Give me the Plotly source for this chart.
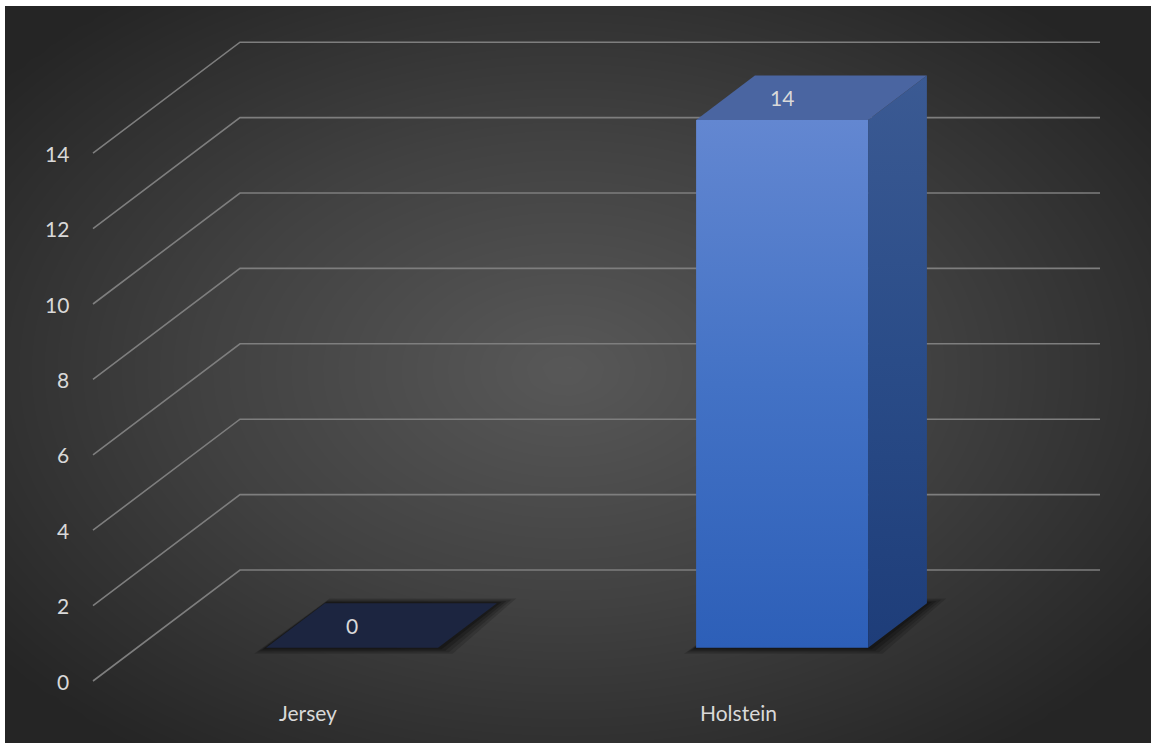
import numpy as np
import plotly.graph_objects as go

# ---- data ----
categories = ["Jersey", "Holstein"]
values = [0, 14]
y_ticks = [0, 2, 4, 6, 8, 10, 12, 14]

# ---- projection of the pseudo-3D chart onto the 2D axes ----
W, H = 1151, 743
PX_CAT0 = 308.0      # pixel x of first category centre (front of floor)
PX_BAND = 430.0      # pixel width of one category band
PY_ZERO = 681.0      # pixel y of value 0 at front of floor
PX_PER_UNIT = 37.7   # pixels per value unit
DX = 147.0 / PX_BAND        # depth offset (x units) for the full depth
DV = 111.0 / PX_PER_UNIT    # depth offset (value units) for the full depth
BAR_W = 0.4
D0, D1 = 0.3, 0.7


def px2x(px):
    return (px - PX_CAT0) / PX_BAND


def py2v(py):
    return (PY_ZERO - py) / PX_PER_UNIT


def proj(x, v, d):
    return x + d * DX, v + d * DV


xr = [px2x(5), px2x(W)]
yr = [py2v(H), py2v(6)]

fig = go.Figure()

# ---- radial background gradient ----
gx = np.linspace(xr[0], xr[1], 70)
gy = np.linspace(yr[0], yr[1], 50)
PX = PX_CAT0 + gx * PX_BAND
PY = PY_ZERO - gy * PX_PER_UNIT
XX, YY = np.meshgrid(PX, PY)
r = np.sqrt(((XX - 565) / 720.0) ** 2 + ((YY - 370) / 470.0) ** 2)
r = np.clip(r, 0, 1)
fig.add_trace(go.Heatmap(
    x=gx, y=gy, z=r, zmin=0, zmax=1, zsmooth="best", showscale=False,
    colorscale=[[0, "#585858"], [0.5, "#414141"], [1, "#252525"]],
    hoverinfo="skip"))

# ---- gridlines (side wall + back wall) ----
left = -0.5
right = len(categories) - 0.5
gxs, gys = [], []
for t in y_ticks:
    fx, fv = proj(left, t, 0)
    bx, bv = proj(left, t, 1)
    rx, rv = proj(right, t, 1)
    gxs += [fx, bx, rx, None]
    gys += [fv, bv, rv, None]
fig.add_trace(go.Scatter(x=gxs, y=gys, mode="lines",
                         line=dict(color="#7e7e7e", width=1.6),
                         hoverinfo="skip", showlegend=False))

# ---- shadows under bars (layered to imitate a blur) ----
for i, v in enumerate(categories):
    x0, x1 = i - BAR_W / 2, i + BAR_W / 2
    for grow, alpha in [(12, 0.18), (9, 0.22), (6, 0.28), (3, 0.4)]:
        gx_ = grow / PX_BAND
        gv_ = grow / PX_PER_UNIT
        pts = [proj(x0 - gx_, -gv_ * 0.5, D0), proj(x1 + gx_ * 1.2, -gv_ * 0.5, D0),
               proj(x1 + gx_ * 1.6, gv_ * 0.4, D1), proj(x0 + gx_ * 0.4, gv_ * 0.4, D1)]
        fig.add_trace(go.Scatter(
            x=[p[0] for p in pts] + [pts[0][0]], y=[p[1] for p in pts] + [pts[0][1]],
            mode="lines", fill="toself", fillcolor=f"rgba(12,12,12,{alpha})",
            line=dict(width=0), hoverinfo="skip", showlegend=False))

# ---- bars ----
for i, (cat, v) in enumerate(zip(categories, values)):
    x0, x1 = i - BAR_W / 2, i + BAR_W / 2
    if v > 0:
        front = [proj(x0, 0, D0), proj(x1, 0, D0), proj(x1, v, D0), proj(x0, v, D0)]
        side = [proj(x1, 0, D0), proj(x1, 0, D1), proj(x1, v, D1), proj(x1, v, D0)]
        top = [proj(x0, v, D0), proj(x1, v, D0), proj(x1, v, D1), proj(x0, v, D1)]
        fig.add_trace(go.Scatter(
            x=[p[0] for p in front] + [front[0][0]], y=[p[1] for p in front] + [front[0][1]],
            mode="lines", fill="toself", line=dict(width=0),
            fillgradient=dict(type="vertical",
                              colorscale=[[0, "#2d5fb8"], [0.5, "#4372c5"], [1, "#6387d1"]]),
            hoverinfo="skip", showlegend=False))
        fig.add_trace(go.Scatter(
            x=[p[0] for p in side] + [side[0][0]], y=[p[1] for p in side] + [side[0][1]],
            mode="lines", fill="toself", line=dict(width=0),
            fillgradient=dict(type="vertical",
                              colorscale=[[0, "#1e3d79"], [0.5, "#2a4c88"], [1, "#3b5a93"]]),
            hoverinfo="skip", showlegend=False))
        fig.add_trace(go.Scatter(
            x=[p[0] for p in top] + [top[0][0]], y=[p[1] for p in top] + [top[0][1]],
            mode="lines", fill="toself", fillcolor="#4a65a1", line=dict(width=0),
            hoverinfo="skip", showlegend=False))
    else:
        top = [proj(x0, v, D0), proj(x1, v, D0), proj(x1, v, D1), proj(x0, v, D1)]
        fig.add_trace(go.Scatter(
            x=[p[0] for p in top] + [top[0][0]], y=[p[1] for p in top] + [top[0][1]],
            mode="lines", fill="toself", fillcolor="#1c2540", line=dict(width=0),
            hoverinfo="skip", showlegend=False))

FONT = dict(family="Lato, Open Sans, sans-serif", size=21, color="#d9d9d9")

# data labels
for i, v in enumerate(values):
    fig.add_annotation(x=i + D0 * DX, y=v + 0.5 * DV, text=str(v), showarrow=False,
                       font=FONT, xanchor="center", yanchor="middle")

# category labels
for i, cat in enumerate(categories):
    fig.add_annotation(x=i, y=py2v(712), text=cat, showarrow=False, font=FONT,
                       xanchor="center", yanchor="middle")

# value-axis labels
for t in y_ticks:
    fig.add_annotation(x=px2x(71), y=t, text=str(t), showarrow=False, font=FONT,
                       xanchor="right", yanchor="middle")

fig.update_layout(
    width=W, height=H,
    margin=dict(l=5, t=6, r=0, b=0),
    paper_bgcolor="#ffffff", plot_bgcolor="#3a3a3a",
    showlegend=False,
    xaxis=dict(range=xr, visible=False, fixedrange=True),
    yaxis=dict(range=yr, visible=False, fixedrange=True),
)

fig.write_html(
    "out.html",
    config={"displayModeBar": False},
    post_script="document.body.style.margin='0';document.body.style.overflow='hidden';",
)
